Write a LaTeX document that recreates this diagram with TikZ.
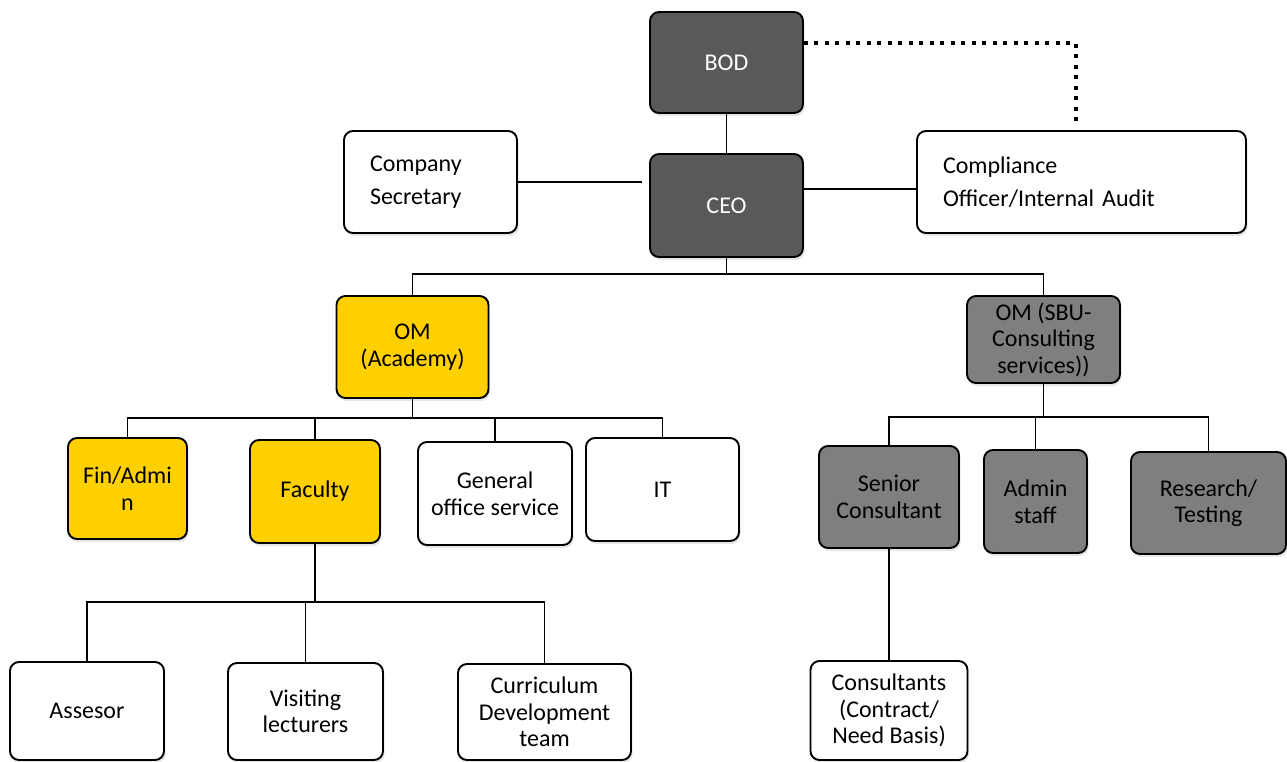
\documentclass[tikz,border=0pt]{standalone}
\usepackage{fontspec}
\setmainfont{Carlito}
\usetikzlibrary{shadows}
\definecolor{darkbox}{RGB}{89,89,89}
\definecolor{graybox}{RGB}{127,127,127}
\definecolor{goldbox}{RGB}{255,208,0}
\begin{document}
\begin{tikzpicture}[x=1pt,y=-1pt,
  box/.style={draw=black, line width=1.9pt, rounded corners=9pt, align=center,
    inner sep=0pt, fill=white, font=\fontsize{24}{26.5}\selectfont,
    drop shadow={shadow xshift=1.5pt, shadow yshift=-3pt, opacity=0.2}},
  darkfill/.style={box, fill=darkbox, text=white},
  grayfill/.style={box, fill=graybox},
  goldfill/.style={box, fill=goldbox},
  sidebox/.style={box, align=left, inner xsep=26pt, font=\fontsize{24}{33}\selectfont},
  conn/.style={line width=1.9pt},
  thickconn/.style={line width=2.8pt},
  dotline/.style={line width=4pt, dash pattern=on 4pt off 6.5pt}
]
\useasboundingbox (0,0) rectangle (1287,761);

% top level
\node[darkfill, minimum width=153pt, minimum height=101pt] (bod) at (726.5,62.5) {BOD};
\node[darkfill, minimum width=153pt, minimum height=103pt] (ceo) at (726.5,205.5) {CEO};
\node[sidebox, text width=121pt, minimum height=102pt] (sec) at (430.5,182) {Company\\Secretary};
\node[sidebox, text width=277pt, minimum height=102pt] (comp) at (1081.5,182) {Compliance\\Officer/Internal Audit};

% second level
\node[goldfill, minimum width=152pt, minimum height=102pt] (oma) at (412.5,347) {OM\\(Academy)};
\node[grayfill, minimum width=153pt, minimum height=87pt] (oms) at (1043.5,339.5) {OM (SBU-\\Consulting\\services))};

% academy children
\node[goldfill, minimum width=119pt, minimum height=101pt] (fin) at (127.5,488.5) {Fin/Admi\\n};
\node[goldfill, minimum width=130pt, minimum height=103pt] (fac) at (315,491.5) {Faculty};
\node[box, minimum width=154pt, minimum height=103pt] (gen) at (495,493.5) {General\\office service};
\node[box, minimum width=153pt, minimum height=103pt] (it) at (662.5,489.5) {IT};

% SBU children
\node[grayfill, minimum width=140pt, minimum height=102pt] (sen) at (889,497) {Senior\\Consultant};
\node[grayfill, minimum width=103pt, minimum height=103pt] (adm) at (1035.5,501.5) {Admin\\staff};
\node[grayfill, minimum width=155pt, minimum height=102pt] (res) at (1208.5,503) {Research/\\Testing};

% faculty children
\node[box, minimum width=154pt, minimum height=98pt] (ass) at (87,711) {Assesor};
\node[box, minimum width=155pt, minimum height=97pt] (vis) at (305.5,711.5) {Visiting\\lecturers};
\node[box, minimum width=173pt, minimum height=96pt] (cur) at (544.5,712) {Curriculum\\Development\\team};
\node[box, minimum width=157pt, minimum height=99pt] (cons) at (889,710.5) {Consultants\\(Contract/\\Need Basis)};

% bus coordinates
\coordinate (b1) at (726.5,274);
\coordinate (b2) at (412.5,418);
\coordinate (b3) at (1043.5,417);
\coordinate (b4) at (315,602);
\coordinate (dc) at (1076,43);

% connectors
\draw[conn] (bod.south) -- (ceo.north);
\draw[thickconn, shorten >=7pt] (sec.east) -- (sec.east -| ceo.west);
\draw[conn] ([yshift=-7pt]comp.west) -- ([yshift=-7pt]comp.west -| ceo.east);
\draw[dotline] (bod.east |- dc) -- (dc) -- ([yshift=8pt]dc |- comp.north);

\draw[conn] (ceo.south) -- (b1);
\draw[conn] (oma.north) -- (oma.north |- b1) -- (oms.north |- b1) -- (oms.north);

\draw[conn] (oma.south) -- (b2);
\draw[conn] (fin.north) -- (fin.north |- b2) -- (it.north |- b2) -- (it.north);
\draw[conn] (fac.north) -- (fac.north |- b2);
\draw[conn] (gen.north) -- (gen.north |- b2);

\draw[conn] (oms.south) -- (b3);
\draw[conn] (sen.north) -- (sen.north |- b3) -- (res.north |- b3) -- (res.north);
\draw[conn] (adm.north) -- (adm.north |- b3);

\draw[conn] (fac.south) -- (b4);
\draw[conn] (ass.north) -- (ass.north |- b4) -- (cur.north |- b4) -- (cur.north);
\draw[conn] (vis.north) -- (vis.north |- b4);

\draw[conn] (sen.south) -- (cons.north);
\end{tikzpicture}
\end{document}
